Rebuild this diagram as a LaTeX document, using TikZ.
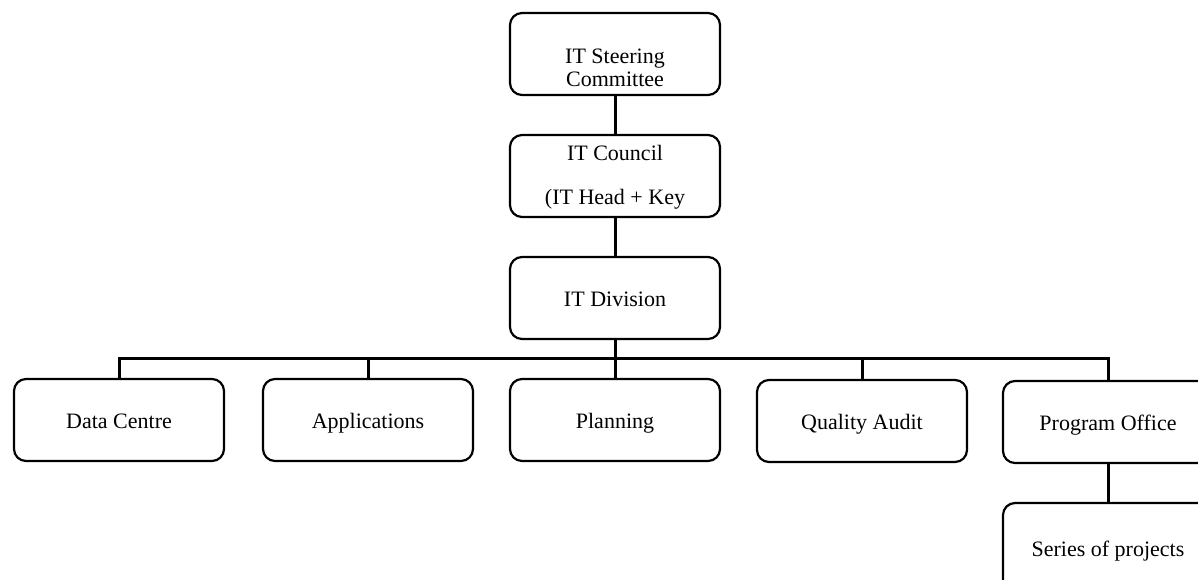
\documentclass[tikz,border=0pt]{standalone}
\usepackage{fontspec}
\setmainfont{Liberation Serif}
\begin{document}
\begin{tikzpicture}[x=0.5pt,y=-0.5pt,
  box/.style={draw, line width=1.1pt, rounded corners=6pt, minimum width=105pt, minimum height=41pt, inner sep=0pt, text height=9.5pt, text depth=1.5pt, font=\fontsize{11pt}{11.5pt}\selectfont},
  txt/.style={inner sep=0pt, font=\fontsize{11pt}{11.5pt}\selectfont, align=center},
  link/.style={line width=1.5pt}]
\useasboundingbox (0,0) rectangle (1198,579);
\begin{scope}
\clip (0,0) rectangle (1198,579);
% top column
\node[box] (steer) at (615,54) {};
\node[txt] (steert) at (615,68) {IT Steering\\Committee};
\node[box] (council) at (615,176) {};
\node[txt] (councilt) at (615,153) {IT Council};
\node[txt] (councilk) at (615,199) {(IT Head + Key};
\node[box] (div) at (615,298) {IT Division};
% row
\node[box] (dc) at (119,420) {Data Centre};
\node[box] (app) at (368,420) {Applications};
\node[box] (plan) at (615,420) {Planning};
\node[box] (qa) at (862,421) {Quality Audit};
\node[box] (po) at (1108,422) {Program Office};
\node[box, minimum height=45pt] (ser) at (1108,548) {Series of projects};
\coordinate (bus) at (615,358);
% connectors
\draw[link] (steer.south) -- (council.north);
\draw[link] (council.south) -- (div.north);
\draw[link] (div.south) -- (plan.north);
\draw[link] (dc.north) -- (dc.north |- bus) -- (po.north |- bus) -- (po.north);
\draw[link] (app.north) -- (app.north |- bus);
\draw[link] (qa.north) -- (qa.north |- bus);
\draw[link] (po.south) -- (ser.north);
\end{scope}
\end{tikzpicture}
\end{document}
